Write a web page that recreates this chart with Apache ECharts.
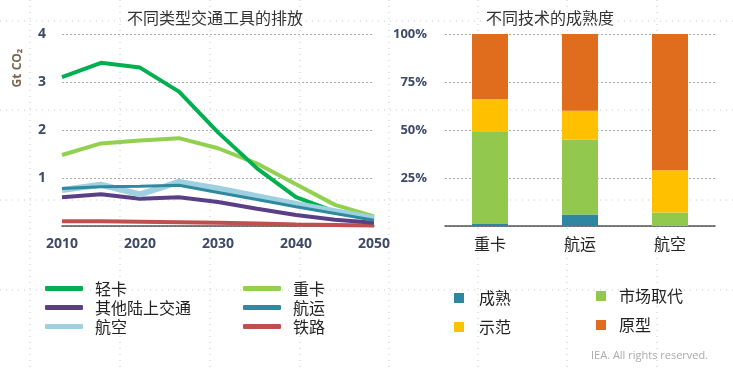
<!DOCTYPE html>
<html><head><meta charset="utf-8">
<script src="https://cdn.jsdelivr.net/npm/echarts@6/dist/echarts.min.js"></script>
<style>html,body{margin:0;padding:0;background:#fff}#c{width:733px;height:369px}</style>
</head><body><div id="c"></div>
<script>
// ---- data ----
var years = [2010, 2015, 2020, 2025, 2030, 2035, 2040, 2045, 2050];
var lightTruck = [3.1, 3.4, 3.3, 2.8, 1.95, 1.2, 0.6, 0.3, 0.15];
var heavyTruck = [1.48, 1.72, 1.78, 1.83, 1.62, 1.3, 0.87, 0.44, 0.2];
var otherLand = [0.6, 0.66, 0.57, 0.6, 0.5, 0.36, 0.23, 0.13, 0.07];
var shipping = [0.78, 0.82, 0.83, 0.85, 0.7, 0.55, 0.4, 0.26, 0.12];
var aviation = [0.75, 0.86, 0.66, 0.92, 0.78, 0.62, 0.46, 0.31, 0.16];
var rail = [0.1, 0.1, 0.09, 0.08, 0.07, 0.05, 0.03, 0.02, 0.01];
var yTicksLeft = [0, 1, 2, 3, 4];

var modes = ['重卡', '航运', '航空'];
var mature = [1, 6, 0];
var marketUptake = [48, 39, 7];
var demo = [17, 15, 22];
var prototype = [34, 40, 71];

var FONT = '"Noto Sans CJK SC", "Noto Sans", sans-serif';
function pairs(arr) { return years.map(function (y, i) { return [y, arr[i]]; }); }
function lineSeries(name, arr, color, w, z) {
  return { name: name, type: 'line', xAxisIndex: 0, yAxisIndex: 0, data: pairs(arr),
    symbol: 'none', z: z, lineStyle: { color: color, width: w }, itemStyle: { color: color } };
}
function barSeries(name, arr, color) {
  return { name: name, type: 'bar', stack: 'a', xAxisIndex: 1, yAxisIndex: 1, data: arr,
    barWidth: 36, itemStyle: { color: color } };
}
var gridDots = [];
[30, 120, 210, 300, 389, 478, 567, 657].forEach(function (x) {
  gridDots.push({ type: 'line', silent: true, z: -1, shape: { x1: x, y1: 0, x2: x, y2: 369 },
    style: { stroke: '#c8c8c8', lineWidth: 1, lineDash: [1, 5] } });
});
[21, 110, 200, 290].forEach(function (y) {
  gridDots.push({ type: 'line', silent: true, z: -1, shape: { x1: 0, y1: y, x2: 733, y2: y },
    style: { stroke: '#c8c8c8', lineWidth: 1, lineDash: [1, 5] } });
});
gridDots.push({ type: 'text', left: 591, top: 350, style: { text: 'IEA. All rights reserved.', fill: '#aaa', font: '11px "Open Sans", sans-serif' } });
gridDots.push({ type: 'text', x: 18, y: 68, rotation: Math.PI / 2, style: { text: 'Gt CO\u2082', fill: '#7a6650', font: 'bold 12px "Open Sans", sans-serif', align: 'center', verticalAlign: 'middle' } });

var labelColor = '#3e4a68';
var chart = echarts.init(document.getElementById('c'), null, { renderer: 'canvas' });
chart.setOption({
  animation: false,
  textStyle: { fontFamily: FONT },
  title: [
    { text: '不同类型交通工具的排放', left: 210, top: 5, textAlign: 'center', textStyle: { fontSize: 16, fontWeight: 'normal', color: '#333', fontFamily: FONT } },
    { text: '不同技术的成熟度', left: 545, top: 5, textAlign: 'center', textStyle: { fontSize: 16, fontWeight: 'normal', color: '#333', fontFamily: FONT } }
  ],
  grid: [
    { left: 62, width: 312, top: 34, height: 192 },
    { left: 445, width: 270, top: 34, height: 192 }
  ],
  xAxis: [
    { type: 'value', gridIndex: 0, min: 2010, max: 2050, interval: 10,
      axisLine: { show: true, lineStyle: { color: '#555', width: 1.5 } }, axisTick: { show: false }, splitLine: { show: false },
      axisLabel: { color: labelColor, fontSize: 14, fontWeight: 'bold', margin: 11, fontFamily: '"Open Sans", sans-serif', formatter: function (v) { return String(v); } } },
    { type: 'category', gridIndex: 1, data: modes, boundaryGap: true,
      axisLine: { show: true, lineStyle: { color: '#555', width: 1.5 } }, axisTick: { show: false },
      axisLabel: { color: '#222', fontSize: 16, margin: 10, fontFamily: FONT } }
  ],
  yAxis: [
    { type: 'value', gridIndex: 0, min: yTicksLeft[0], max: yTicksLeft[yTicksLeft.length - 1], interval: 1,
      axisLine: { show: false }, axisTick: { show: false },
      splitLine: { show: true, lineStyle: { color: '#aaa', type: [2, 2], width: 1 } },
      axisLabel: { color: labelColor, fontSize: 14, fontWeight: 'bold', margin: 16, fontFamily: '"Open Sans", sans-serif', formatter: function (v) { return v === 0 ? '' : String(v); } } },
    { type: 'value', gridIndex: 1, min: 0, max: 100, interval: 25,
      axisLine: { show: false }, axisTick: { show: false },
      splitLine: { show: true, lineStyle: { color: '#aaa', type: [2, 2], width: 1 } },
      axisLabel: { color: labelColor, fontSize: 13, fontWeight: 'bold', margin: 18, fontFamily: '"Open Sans", sans-serif', formatter: function (v) { return v === 0 ? '' : v + '%'; } } }
  ],
  legend: [
    { data: ['轻卡', '其他陆上交通', '航空'], orient: 'vertical', left: 40, top: 274, itemWidth: 38, itemHeight: 5, itemGap: 0, icon: 'roundRect',
      textStyle: { fontSize: 16, color: '#222', lineHeight: 19, padding: [0, 0, 0, 7], fontFamily: FONT } },
    { data: ['重卡', '航运', '铁路'], orient: 'vertical', left: 238, top: 274, itemWidth: 38, itemHeight: 5, itemGap: 0, icon: 'roundRect',
      textStyle: { fontSize: 16, color: '#222', lineHeight: 19, padding: [0, 0, 0, 7], fontFamily: FONT } },
    { data: ['成熟', '示范'], orient: 'vertical', left: 449, top: 284, itemWidth: 10, itemHeight: 10, itemGap: 11, icon: 'rect',
      textStyle: { fontSize: 16, color: '#222', lineHeight: 18, padding: [0, 0, 0, 10], fontFamily: FONT } },
    { data: ['市场取代', '原型'], orient: 'vertical', left: 591, top: 282, itemWidth: 10, itemHeight: 10, itemGap: 11, icon: 'rect',
      textStyle: { fontSize: 16, color: '#222', lineHeight: 18, padding: [0, 0, 0, 8], fontFamily: FONT } }
  ],
  graphic: gridDots,
  series: [
    lineSeries('铁路', rail, '#c0504d', 4, 2),
    lineSeries('其他陆上交通', otherLand, '#5b3f86', 4, 3),
    lineSeries('重卡', heavyTruck, '#92d050', 4, 3),
    lineSeries('轻卡', lightTruck, '#00b050', 4, 4),
    lineSeries('航空', aviation, '#9fd0e0', 6, 5),
    lineSeries('航运', shipping, '#2e8a9e', 3, 6),
    barSeries('成熟', mature, '#2e86a0'),
    barSeries('市场取代', marketUptake, '#92c84e'),
    barSeries('示范', demo, '#ffc000'),
    barSeries('原型', prototype, '#e06c1e')
  ]
});
</script></body></html>
